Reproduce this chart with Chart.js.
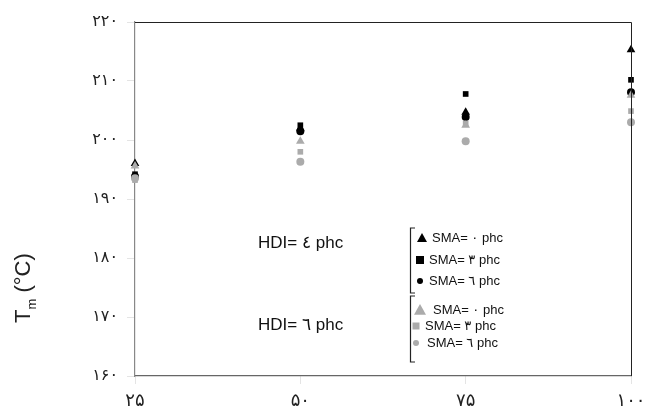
<!DOCTYPE html>
<html>
<head>
<meta charset="utf-8">
<script src="https://cdn.jsdelivr.net/npm/chart.js@4"></script>
<style>
  body { margin: 0; background: #fff; }
  #wrap { width: 654px; height: 419px; }
</style>
</head>
<body>
<div id="wrap"><canvas id="tmChart"></canvas></div>
<script>
// HDI content (phc), x axis
const xValues = [25, 50, 75, 100];
const xTickLabels = { 25: "۲۵", 50: "۵۰", 75: "۷۵", 100: "۱۰۰" };
const yTickLabels = { 160: "۱۶۰", 170: "۱۷۰", 180: "۱۸۰", 190: "۱۹۰", 200: "۲۰۰", 210: "۲۱۰", 220: "۲۲۰" };

// Tm values (°C)
const hdi4Sma0 = [196.0, 202.0, 204.7, 215.3];
const hdi4Sma3 = [194.2, 202.5, 207.8, 210.2];
const hdi4Sma6 = [193.8, 201.5, 203.9, 208.1];
const hdi6Sma0 = [195.6, 199.8, 202.5, 207.6];
const hdi6Sma3 = [193.2, 198.0, 202.8, 204.9];
const hdi6Sma6 = [193.5, 196.3, 199.8, 203.0];

const groupLabels = ["HDI= ٤ phc", "HDI= ٦ phc"];
const smaLabels = ["SMA= ٠ phc", "SMA= ٣ phc", "SMA= ٦ phc"];

const black = "#000000";
const gray = "#ababab";

function pts(vals) {
  return xValues.map((x, i) => ({ x: x, y: vals[i] }));
}

function ds(label, vals, style, color, r) {
  return {
    label: label,
    data: pts(vals),
    pointStyle: style,
    pointRadius: r,
    backgroundColor: color,
    borderColor: color,
    borderWidth: 0,
    clip: false,
  };
}

// legend drawn by hand, with brackets like the original
const bracketLegend = {
  id: "bracketLegend",
  afterDraw(chart) {
    const c = chart.ctx;
    c.save();
    // box: top and right edges
    const a = chart.chartArea;
    c.strokeStyle = "#222";
    c.lineWidth = 1;
    c.beginPath();
    c.moveTo(a.left, a.top + 0.5);
    c.lineTo(a.right + 0.5, a.top + 0.5);
    c.lineTo(a.right + 0.5, a.bottom);
    c.stroke();

    // y title with subscript
    c.fillStyle = "#222";
    c.translate(30, 281);
    c.rotate(-Math.PI / 2);
    c.font = "22px 'Liberation Sans', 'DejaVu Sans'";
    c.textBaseline = "alphabetic";
    c.textAlign = "left";
    const tW = c.measureText("T").width;
    c.fillText("T", -42, 0);
    c.font = "13px 'Liberation Sans', 'DejaVu Sans'";
    c.fillText("m", -42 + tW, 6);
    const mW = c.measureText("m").width;
    c.font = "22px 'Liberation Sans', 'DejaVu Sans'";
    c.fillText(" (°C)", -42 + tW + mW, 0);
    c.restore();

    c.save();
    c.textBaseline = "middle";
    const groups = [
      { y: 243, top: 228, bottom: 293, color: black, rows: [238, 260, 281], mx: [422, 420, 420], tx: [432, 429, 429], sz: [5, 4, 3] },
      { y: 325, top: 296, bottom: 362, color: gray, rows: [310, 326, 343], mx: [420, 416, 416], tx: [433, 425, 427], sz: [6, 3.5, 3] },
    ];
    groups.forEach((g, gi) => {
      c.fillStyle = "#111";
      c.font = "17px 'Liberation Sans', 'DejaVu Sans'";
      c.textAlign = "left";
      c.fillText(groupLabels[gi], 258, g.y);
      c.strokeStyle = "#222";
      c.lineWidth = 1.2;
      c.beginPath();
      c.moveTo(415, g.top);
      c.lineTo(410.5, g.top);
      c.lineTo(410.5, g.bottom);
      c.lineTo(415, g.bottom);
      c.stroke();
      smaLabels.forEach((lab, i) => {
        const mx = g.mx[i], my = g.rows[i], s = g.sz[i];
        c.fillStyle = g.color;
        c.beginPath();
        if (i === 0) {
          c.moveTo(mx, my - s);
          c.lineTo(mx + s, my + s * 0.8);
          c.lineTo(mx - s, my + s * 0.8);
          c.closePath();
        } else if (i === 1) {
          c.rect(mx - s, my - s, 2 * s, 2 * s);
        } else {
          c.arc(mx, my, s, 0, Math.PI * 2);
        }
        c.fill();
        c.fillStyle = "#111";
        c.font = "13px 'Liberation Sans', 'DejaVu Sans'";
        c.fillText(lab, g.tx[i], my);
      });
    });
    c.restore();
  },
};

const ctx = document.getElementById("tmChart");
new Chart(ctx, {
  type: "scatter",
  data: {
    datasets: [
      ds("HDI 6 SMA 6", hdi6Sma6, "circle", gray, 4),
      ds("HDI 6 SMA 3", hdi6Sma3, "rect", gray, 4),
      ds("HDI 6 SMA 0", hdi6Sma0, "triangle", gray, 5),
      ds("HDI 4 SMA 6", hdi4Sma6, "circle", black, 4),
      ds("HDI 4 SMA 3", hdi4Sma3, "rect", black, 4),
      ds("HDI 4 SMA 0", hdi4Sma0, "triangle", black, 5),
    ],
  },
  options: {
    responsive: true,
    maintainAspectRatio: false,
    animation: false,
    layout: { padding: { top: 22, right: 23, left: 0, bottom: 0 } },
    plugins: { legend: { display: false }, tooltip: { enabled: false } },
    scales: {
      x: {
        type: "linear",
        min: 25,
        max: 100,
        afterFit: (s) => { s.height = 43; },
        afterBuildTicks: (s) => { s.ticks = xValues.map((v) => ({ value: v })); },
        ticks: {
          callback: (v) => xTickLabels[v] || "",
          color: "#222",
          padding: 7,
          maxRotation: 0,
          font: { family: "'DejaVu Sans'", size: 18 },
        },
        grid: { drawOnChartArea: false, tickLength: 8, color: "#e4e4e4" },
        border: { color: "#666", width: 1.2 },
      },
      y: {
        min: 160,
        max: 220,
        afterFit: (s) => { s.width = 135; },
        ticks: {
          stepSize: 10,
          callback: (v) => yTickLabels[v] || "",
          color: "#222",
          padding: 9,
          font: { family: "'DejaVu Sans'", size: 16 },
        },
        grid: { drawOnChartArea: false, tickLength: 8, color: "#e4e4e4" },
        border: { color: "#888", width: 1.2 },
      },
    },
  },
  plugins: [bracketLegend],
});
</script>
</body>
</html>
